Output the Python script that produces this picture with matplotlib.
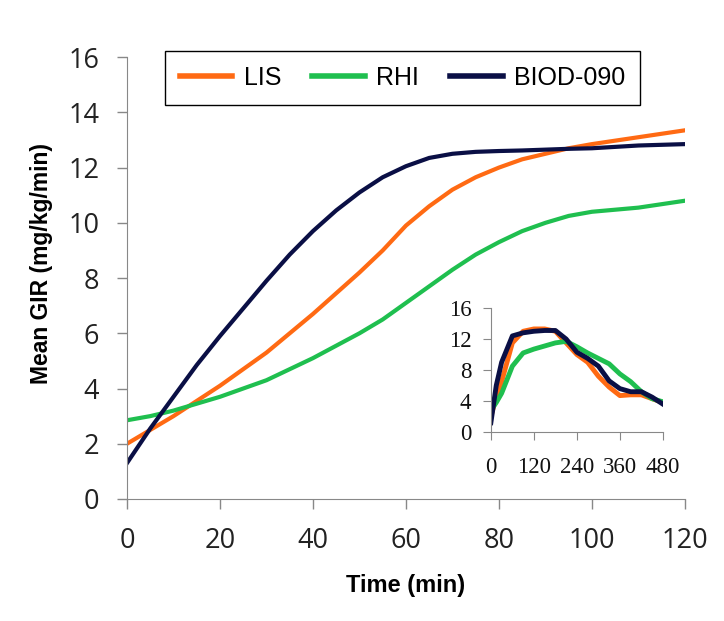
import matplotlib.pyplot as plt

# main panel, first 2 hours
time = [0, 5, 10, 15, 20, 25, 30, 35, 40, 45, 50, 55, 60, 65, 70, 75, 80, 85, 90, 95, 100, 110, 120]
lis = [2.0, 2.5, 3.0, 3.55, 4.1, 4.7, 5.3, 6.0, 6.7, 7.45, 8.2, 9.0, 9.9, 10.6, 11.2, 11.65, 12.0, 12.3,
       12.5, 12.7, 12.85, 13.1, 13.35]
rhi = [2.85, 3.0, 3.2, 3.45, 3.7, 4.0, 4.3, 4.7, 5.1, 5.55, 6.0, 6.5, 7.1, 7.7, 8.3, 8.85, 9.3, 9.7,
       10.0, 10.25, 10.4, 10.55, 10.8]
biod = [1.3, 2.55, 3.7, 4.85, 5.9, 6.9, 7.9, 8.85, 9.7, 10.45, 11.1, 11.65, 12.05, 12.35, 12.5, 12.57,
        12.6, 12.62, 12.65, 12.68, 12.7, 12.8, 12.85]

# inset, full 8 hours
timeIn = [0, 15, 30, 60, 90, 120, 150, 180, 210, 240, 270, 300, 330, 360, 390, 420, 450, 480]
lisIn = [2.0, 4.5, 6.5, 11.5, 13.0, 13.3, 13.3, 13.0, 11.5, 10.0, 9.0, 7.2, 5.8, 4.7, 4.8, 4.8, 4.3, 3.8]
rhiIn = [2.8, 3.8, 5.0, 8.5, 10.2, 10.7, 11.1, 11.5, 11.7, 11.0, 10.2, 9.5, 8.8, 7.5, 6.5, 5.2, 4.3, 3.9]
biodIn = [1.2, 6.0, 9.0, 12.4, 12.8, 13.0, 13.1, 13.1, 12.0, 10.3, 9.5, 8.5, 6.6, 5.6, 5.2, 5.2, 4.5, 3.6]

cLis = '#ff6a13'
cRhi = '#1fbf4f'
cBiod = '#0a0f45'

fig = plt.figure(figsize=(7.24, 6.21), dpi=100)
ax = fig.add_axes([0.1754, 0.1965, 0.7706, 0.7115])

ax.plot(time, lis, color=cLis, lw=3.0, label='LIS')
ax.plot(time, rhi, color=cRhi, lw=3.0, label='RHI')
ax.plot(time, biod, color=cBiod, lw=3.0, label='BIOD-090')

ax.set_xlim(0, 120)
ax.set_ylim(0, 16)
ax.set_xticks(range(0, 121, 20))
ax.set_yticks(range(0, 17, 2))
for s in ['top', 'right']:
    ax.spines[s].set_visible(False)
for s in ['left', 'bottom']:
    ax.spines[s].set_color('#888888')
ax.tick_params(colors='#888888', length=7, width=1, labelcolor='#222222',
               labelsize=19.5, pad=13)
for lab in ax.get_xticklabels() + ax.get_yticklabels():
    lab.set_family('Open Sans')

ax.set_xlabel('Time (min)', fontsize=17, fontweight='bold', family='Liberation Sans', labelpad=14)
ax.set_ylabel('Mean GIR (mg/kg/min)', fontsize=16.5, fontweight='bold', family='Liberation Sans')
ax.yaxis.set_label_coords(-0.132, 0.534)

leg = ax.legend(loc='upper center', bbox_to_anchor=(0.494, 1.014), ncol=3, fancybox=False,
                edgecolor='black', framealpha=1, handlelength=2.1, handletextpad=0.45,
                columnspacing=1.25, prop={'family': 'Liberation Sans', 'size': 18},
                borderpad=0.6, borderaxespad=0)
leg.get_frame().set_linewidth(1.0)
for h in leg.get_lines():
    h.set_linewidth(4)

# inset
axIn = fig.add_axes([0.678, 0.3043, 0.2376, 0.1997])
axIn.plot(timeIn, lisIn, color=cLis, lw=3.5)
axIn.plot(timeIn, rhiIn, color=cRhi, lw=3.5)
axIn.plot(timeIn, biodIn, color=cBiod, lw=3.5)
axIn.set_xlim(0, 480)
axIn.set_ylim(0, 16)
axIn.set_xticks(range(0, 481, 120))
axIn.set_yticks(range(0, 17, 4))
for s in ['top', 'right']:
    axIn.spines[s].set_visible(False)
for s in ['left', 'bottom']:
    axIn.spines[s].set_color('#888888')
axIn.tick_params(colors='#888888', length=6, labelcolor='#111111', labelsize=16.5, pad=8)
axIn.tick_params(axis='x', pad=12)
for lab in axIn.get_xticklabels() + axIn.get_yticklabels():
    lab.set_family('Liberation Serif')
axIn.patch.set_alpha(0)

fig.savefig('out.png', dpi=100)
